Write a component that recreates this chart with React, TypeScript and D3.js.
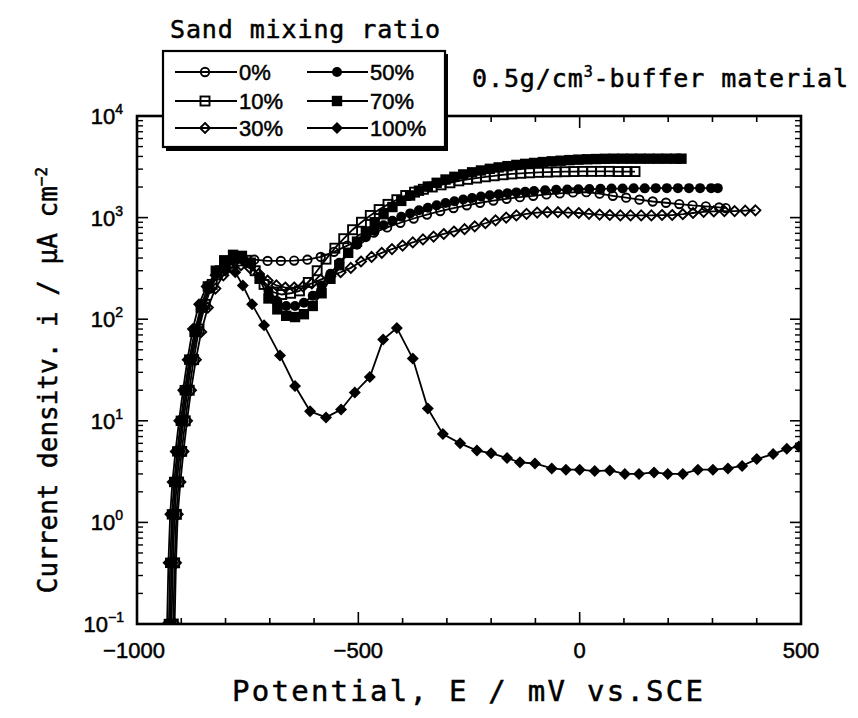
import React from 'react';
import * as d3 from 'd3';

// ---- data: [potential mV, current density uA/cm2] ----
const seriesNames = ['0%', '10%', '30%', '50%', '70%', '100%'];
const markerKinds = ['circleOpen', 'squareOpen', 'diamondOpen', 'circleFilled', 'squareFilled', 'diamondFilled'];

const s0: [number, number][] = [
  [-922, 0.1], [-919, 0.4], [-915, 1.2], [-910, 2.5], [-903, 5], [-895, 10], [-886, 20], [-876, 40], [-864, 75],
  [-850, 130], [-835, 200], [-818, 270], [-800, 330], [-780, 370], [-760, 390], [-735, 385], [-705, 375], [-675, 375],
  [-645, 378], [-615, 385], [-585, 410], [-555, 460], [-525, 530], [-495, 620], [-465, 710], [-435, 800], [-405, 890],
  [-375, 980], [-345, 1070], [-315, 1160], [-285, 1240], [-255, 1320], [-225, 1400], [-195, 1470], [-165, 1530],
  [-135, 1590], [-105, 1640], [-75, 1690], [-45, 1730], [-15, 1770], [15, 1780], [45, 1720], [75, 1640], [105, 1570],
  [135, 1500], [165, 1440], [195, 1400], [225, 1360], [255, 1320], [285, 1290], [315, 1260], [330, 1240],
];
const s10: [number, number][] = [
  [-918, 0.1], [-915, 0.4], [-911, 1.2], [-906, 2.5], [-899, 5], [-891, 10], [-882, 20], [-872, 40], [-860, 80],
  [-846, 140], [-830, 220], [-812, 300], [-793, 360], [-773, 400], [-753, 380], [-733, 300], [-713, 220], [-693, 185],
  [-673, 175], [-653, 180], [-633, 190], [-613, 230], [-593, 300], [-573, 390], [-553, 500], [-533, 620], [-513, 760],
  [-493, 900], [-473, 1050], [-453, 1200], [-433, 1350], [-413, 1500], [-393, 1650], [-373, 1780], [-353, 1900],
  [-333, 2000], [-313, 2100], [-293, 2200], [-273, 2300], [-253, 2380], [-233, 2450], [-213, 2520], [-193, 2580],
  [-173, 2640], [-153, 2690], [-133, 2730], [-113, 2760], [-93, 2790], [-73, 2800], [-53, 2820], [-33, 2830],
  [-13, 2840], [7, 2850], [27, 2850], [47, 2850], [67, 2850], [87, 2840], [107, 2840], [125, 2840],
];
const s30: [number, number][] = [
  [-915, 0.1], [-912, 0.4], [-908, 1.2], [-902, 2.5], [-895, 5], [-887, 10], [-878, 20], [-867, 40], [-855, 75],
  [-840, 130], [-823, 200], [-805, 270], [-785, 320], [-765, 340], [-745, 320], [-725, 280], [-705, 240], [-685, 215],
  [-665, 205], [-645, 205], [-625, 210], [-605, 225], [-585, 245], [-563, 265], [-540, 290], [-517, 320], [-494, 370],
  [-470, 410], [-447, 450], [-424, 490], [-400, 530], [-377, 570], [-354, 610], [-330, 650], [-307, 690], [-284, 730],
  [-260, 770], [-237, 820], [-213, 880], [-190, 940], [-166, 1000], [-143, 1050], [-120, 1090], [-96, 1120],
  [-73, 1130], [-49, 1130], [-26, 1120], [-2, 1110], [21, 1090], [45, 1070], [68, 1060], [92, 1050], [115, 1050],
  [139, 1050], [162, 1050], [186, 1060], [209, 1060], [233, 1080], [256, 1110], [280, 1140], [303, 1150],
  [327, 1160], [350, 1160], [374, 1170], [397, 1180],
];
const s50: [number, number][] = [
  [-925, 0.1], [-922, 0.4], [-918, 1.2], [-913, 2.5], [-906, 5], [-898, 10], [-889, 20], [-879, 40], [-867, 75],
  [-853, 130], [-838, 200], [-821, 280], [-803, 340], [-783, 380], [-763, 390], [-743, 350], [-723, 260], [-703, 190],
  [-683, 150], [-663, 135], [-643, 135], [-623, 145], [-603, 170], [-583, 215], [-563, 280], [-543, 360], [-523, 450],
  [-503, 540], [-483, 640], [-463, 740], [-443, 840], [-423, 930], [-403, 1020], [-383, 1100], [-363, 1180],
  [-343, 1250], [-323, 1320], [-303, 1390], [-283, 1450], [-263, 1510], [-243, 1560], [-223, 1610], [-203, 1660],
  [-183, 1700], [-163, 1740], [-143, 1770], [-123, 1800], [-103, 1830], [-78, 1855], [-53, 1875], [-28, 1890],
  [-3, 1900], [22, 1910], [47, 1920], [72, 1930], [97, 1930], [122, 1940], [147, 1940], [172, 1950], [197, 1950],
  [222, 1950], [247, 1950], [272, 1950], [297, 1950], [312, 1950],
];
const s70: [number, number][] = [
  [-928, 0.1], [-925, 0.4], [-921, 1.2], [-916, 2.5], [-909, 5], [-901, 10], [-892, 20], [-882, 40], [-870, 75],
  [-856, 130], [-840, 210], [-822, 300], [-803, 380], [-783, 430], [-763, 420], [-743, 360], [-723, 250], [-703, 160],
  [-683, 125], [-663, 108], [-643, 105], [-623, 112], [-603, 135], [-583, 180], [-563, 250], [-543, 340], [-523, 450],
  [-503, 580], [-483, 730], [-463, 900], [-443, 1080], [-423, 1270], [-403, 1460], [-383, 1650], [-363, 1840],
  [-343, 2020], [-323, 2200], [-303, 2370], [-283, 2520], [-263, 2660], [-243, 2790], [-223, 2910], [-203, 3020],
  [-183, 3120], [-163, 3210], [-143, 3300], [-123, 3380], [-103, 3450], [-83, 3520], [-63, 3580], [-43, 3630],
  [-23, 3680], [-3, 3720], [17, 3750], [37, 3770], [57, 3790], [77, 3800], [97, 3800], [117, 3800], [137, 3800],
  [157, 3800], [177, 3800], [197, 3800], [217, 3800], [230, 3800],
];
const s100: [number, number][] = [
  [-932, 0.1], [-929, 0.4], [-925, 1.2], [-920, 2.5], [-913, 5], [-905, 10], [-896, 20], [-886, 40], [-874, 80],
  [-860, 140], [-843, 210], [-823, 270], [-800, 300], [-778, 290], [-761, 215], [-740, 140], [-713, 87], [-677, 44],
  [-643, 22], [-609, 12.4], [-573, 10.8], [-539, 12.9], [-508, 19], [-474, 27], [-444, 63], [-413, 82], [-377, 41],
  [-343, 13.2], [-309, 7.4], [-270, 6.0], [-232, 5.1], [-200, 4.8], [-164, 4.3], [-135, 3.9], [-101, 3.8],
  [-63, 3.4], [-31, 3.3], [0, 3.3], [34, 3.2], [68, 3.25], [102, 3.0], [134, 3.0], [168, 3.1], [199, 3.0],
  [233, 3.0], [267, 3.3], [301, 3.3], [335, 3.4], [367, 3.6], [400, 4.2], [437, 4.7], [468, 5.3], [495, 5.6],
];
const allSeries = [s0, s10, s30, s50, s70, s100];

const xTickLabels = [-1000, -500, 0, 500];
const yDecades = [-1, 0, 1, 2, 3, 4];

const W = 858;
const H = 718;
const L = 137, R = 801, T = 116, B = 624;

const x = d3.scaleLinear().domain([-1000, 500]).range([L, R]);
const y = d3.scaleLog().domain([0.1, 1e4]).range([B, T]);

function Marker({ kind, cx, cy }: { kind: string; cx: number; cy: number }) {
  const sw = 1.9;
  if (kind === 'circleOpen') return <circle cx={cx} cy={cy} r={4.2} fill="none" stroke="#000" strokeWidth={sw} />;
  if (kind === 'circleFilled') return <circle cx={cx} cy={cy} r={5} fill="#000" />;
  if (kind === 'squareOpen') return <rect x={cx - 4.5} y={cy - 4.5} width={9} height={9} fill="none" stroke="#000" strokeWidth={sw} />;
  if (kind === 'squareFilled') return <rect x={cx - 5.2} y={cy - 5.2} width={10.4} height={10.4} fill="#000" />;
  const d = kind === 'diamondOpen' ? 5 : 6;
  const pts = `${cx},${cy - d} ${cx + d},${cy} ${cx},${cy + d} ${cx - d},${cy}`;
  if (kind === 'diamondOpen') return <polygon points={pts} fill="none" stroke="#000" strokeWidth={sw} />;
  return <polygon points={pts} fill="#000" />;
}

export default function App() {
  const line = d3.line<[number, number]>().x(d => x(d[0])).y(d => y(d[1]));
  const xMinor = d3.range(-1000, 501, 100);
  const yMinor: number[] = [];
  for (let d = -1; d < 4; d++) for (let k = 2; k <= 9; k++) yMinor.push(k * Math.pow(10, d));
  const font = "'DejaVu Sans Mono', monospace";
  const numFont = "'Liberation Sans', Arial, sans-serif";
  const thick = { stroke: '#000', strokeWidth: 0.5 } as const;

  const legendRows = [72, 101, 128];
  const legendCols = [{ x1: 175, x2: 237, m: 205, t: 239 }, { x1: 307, x2: 368, m: 337, t: 370 }];

  return (
    <svg width={W} height={H} style={{ position: 'absolute', left: 0, top: 0, background: '#fff' }}>
      <defs>
        <clipPath id="plot"><rect x={L} y={T} width={R - L} height={B - T} /></clipPath>
      </defs>
      <rect x={0} y={0} width={W} height={H} fill="#fff" />

      {/* data */}
      <g clipPath="url(#plot)">
        {allSeries.map((s, i) => (
          <g key={i}>
            <path d={line(s) || ''} fill="none" stroke="#000" strokeWidth={1.8} />
            {s.map((p, j) => <Marker key={j} kind={markerKinds[i]} cx={x(p[0])} cy={y(p[1])} />)}
          </g>
        ))}
      </g>

      {/* frame */}
      <rect x={L} y={T} width={R - L} height={B - T} fill="none" stroke="#000" strokeWidth={2.6} />

      {/* x ticks */}
      {xMinor.map(v => {
        const len = v % 500 === 0 ? 12 : 6;
        return (
          <g key={v}>
            <line x1={x(v)} x2={x(v)} y1={B} y2={B - len} stroke="#000" strokeWidth={1.6} />
            <line x1={x(v)} x2={x(v)} y1={T} y2={T + len} stroke="#000" strokeWidth={1.6} />
          </g>
        );
      })}
      {/* y ticks */}
      {yDecades.map(d => (
        <g key={d}>
          <line x1={L} x2={L + 11} y1={y(Math.pow(10, d))} y2={y(Math.pow(10, d))} stroke="#000" strokeWidth={1.6} />
          <line x1={R} x2={R - 11} y1={y(Math.pow(10, d))} y2={y(Math.pow(10, d))} stroke="#000" strokeWidth={1.6} />
        </g>
      ))}
      {yMinor.map((v, i) => (
        <g key={i}>
          <line x1={L} x2={L + 6} y1={y(v)} y2={y(v)} stroke="#000" strokeWidth={1.4} />
          <line x1={R} x2={R - 6} y1={y(v)} y2={y(v)} stroke="#000" strokeWidth={1.4} />
        </g>
      ))}

      {/* tick labels */}
      {xTickLabels.map(v => (
        <text key={v} x={x(v) - (v === -1000 ? 3 : 0)} y={658} textAnchor="middle" fontFamily={numFont} fontSize={22} fill="#000" {...thick}>
          {v < 0 ? '\u2212' + Math.abs(v) : String(v)}
        </text>
      ))}
      {yDecades.map(d => (
        <text key={d} x={d < 0 ? 124 : 123} y={y(Math.pow(10, d)) + 8} textAnchor="end" fontFamily={numFont} fontSize={22} fill="#000" {...thick}>
          10<tspan dy={-10} fontSize={14}>{d < 0 ? '\u2212' + Math.abs(d) : String(d)}</tspan>
        </text>
      ))}

      {/* axis titles */}
      <text x={232} y={701} fontFamily={font} fontSize={29} textLength={471} lengthAdjust="spacing" fill="#000" {...thick}>
        Potential, E / mV vs.SCE
      </text>
      <text transform="translate(57,380) rotate(-90)" textAnchor="middle" fontFamily={font} fontSize={26} fill="#000" {...thick}>
        Current densitv. i / μA cm<tspan dy={-10} fontSize={16}>−2</tspan>
      </text>

      {/* titles */}
      <text x={170} y={38} fontFamily={font} fontSize={25} textLength={270} lengthAdjust="spacing" fill="#000" {...thick}>
        Sand mixing ratio
      </text>
      <text x={472} y={87} fontFamily={font} fontSize={25} letterSpacing={0.9} fill="#000" {...thick}>
        0.5g/cm<tspan dy={-10} fontSize={15}>3</tspan><tspan dy={10}>-buffer material</tspan>
      </text>

      {/* legend */}
      <rect x={166} y={54} width={282} height={97} fill="#000" />
      <rect x={163} y={51} width={282} height={96} fill="#fff" stroke="#000" strokeWidth={2.2} />
      {seriesNames.map((n, i) => {
        const col = legendCols[i < 3 ? 0 : 1];
        const row = legendRows[i % 3];
        return (
          <g key={n}>
            <line x1={col.x1} x2={col.x2} y1={row} y2={row} stroke="#000" strokeWidth={1.8} />
            <Marker kind={markerKinds[i]} cx={col.m} cy={row} />
            <text x={col.t} y={row + 8} fontFamily={numFont} fontSize={22} fill="#000" {...thick}>{n}</text>
          </g>
        );
      })}
    </svg>
  );
}
